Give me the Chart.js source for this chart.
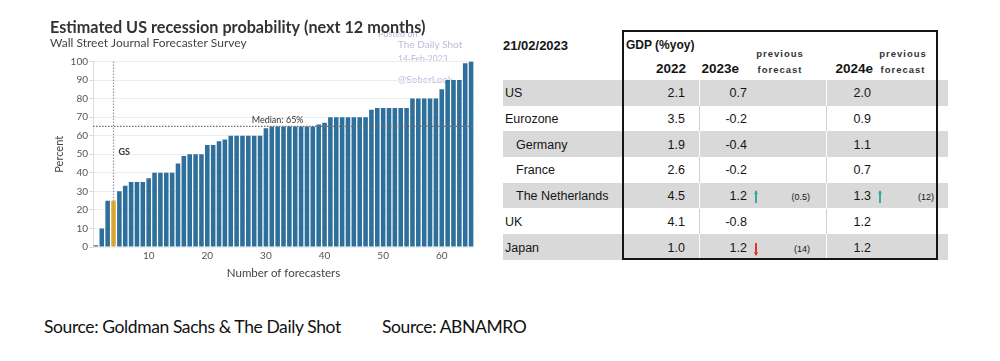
<!DOCTYPE html>
<html>
<head>
<meta charset="utf-8">
<script src="https://cdn.jsdelivr.net/npm/chart.js@4"></script>
<style>
  body { margin: 0; width: 1000px; height: 361px; background: #fff; overflow: hidden; position: relative; }
  #wrap { position: absolute; left: 40px; top: 10px; width: 450px; height: 280px; }
  .t { position: absolute; white-space: nowrap; font-family: "Liberation Sans", Arial, sans-serif; color: #151515; line-height: 1; }
  .src { position: absolute; top: 316px; font-family: Lato, sans-serif; font-size: 17.5px; letter-spacing: -0.4px; color: #111; white-space: nowrap; }
</style>
</head>
<body>
<div id="wrap"><canvas id="chart" width="450" height="280"></canvas></div>
<div id="table"></div>
<div class="src" style="left:44px">Source: Goldman Sachs &amp; The Daily Shot</div>
<div class="src" style="left:382px">Source: ABNAMRO</div>
<script>
// bar chart data
const forecasters = [1, 2, 3, 4, 5, 6, 7, 8, 9, 10, 11, 12, 13, 14, 15, 16, 17, 18, 19, 20,
  21, 22, 23, 24, 25, 26, 27, 28, 29, 30, 31, 32, 33, 34, 35, 36, 37, 38, 39, 40,
  41, 42, 43, 44, 45, 46, 47, 48, 49, 50, 51, 52, 53, 54, 55, 56, 57, 58, 59, 60,
  61, 62, 63, 64, 65];
const probability = [1, 10, 25, 25, 30, 33, 35, 35, 35, 37, 40, 40, 40, 40, 45, 49, 50, 50, 50, 55,
  55, 57, 58, 60, 60, 60, 60, 60, 60, 64, 65, 65, 65, 65, 65, 65, 65, 65, 66, 67,
  70, 70, 70, 70, 70, 70, 70, 74, 75, 75, 75, 75, 75, 75, 80, 80, 80, 80, 80, 85,
  90, 90, 90, 99, 100];
const xTickLabels = [10, 20, 30, 40, 50, 60];
const medianValue = 65;
const gsForecaster = 4;
const watermark = ['Posted on', 'The Daily Shot', '14-Feb-2023', '@SoberLook'];

// table data
const tableDate = '21/02/2023';
const countries = ['US', 'Eurozone', 'Germany', 'France', 'The Netherlands', 'UK', 'Japan'];
const euroMembers = ['Germany', 'France', 'The Netherlands'];
const gdp2022 = ['2.1', '3.5', '1.9', '2.6', '4.5', '4.1', '1.0'];
const gdp2023e = ['0.7', '-0.2', '-0.4', '-0.2', '1.2', '-0.8', '1.2'];
const move2023 = ['', '', '', '', 'up', '', 'down'];
const prev2023 = ['', '', '', '', '(0.5)', '', '(14)'];
const gdp2024e = ['2.0', '0.9', '1.1', '0.7', '1.3', '1.2', '1.2'];
const move2024 = ['', '', '', '', 'up', '', ''];
const prev2024 = ['', '', '', '', '(12)', '', ''];

const BLUE = '#2f6f9b';
const YELLOW = '#e9a91e';

// watermark sits under everything
const watermarkPlugin = {
  id: 'watermark',
  beforeDraw(chart) {
    const ctx = chart.ctx;
    ctx.save();
    ctx.fillStyle = 'rgba(170, 170, 215, 0.8)';
    ctx.textAlign = 'left';
    ctx.textBaseline = 'middle';
    ctx.font = '9px Lato';
    ctx.fillText(watermark[0], 338, 24);
    ctx.font = '10px Lato';
    ctx.fillText(watermark[1], 358, 35);
    ctx.font = '8.5px Lato';
    ctx.fillText(watermark[2], 358, 49);
    ctx.font = '10px Lato';
    ctx.fillText(watermark[3], 358, 70);
    ctx.restore();
  }
};

// median line and GS marker
const annotations = {
  id: 'annotations',
  afterDatasetsDraw(chart) {
    const { ctx, chartArea, scales } = chart;
    const yMed = scales.y.getPixelForValue(medianValue);
    const xGs = scales.x.getPixelForValue(forecasters.indexOf(gsForecaster));
    ctx.save();
    ctx.setLineDash([1.5, 1.5]);
    ctx.lineWidth = 1.2;
    ctx.strokeStyle = '#707070';
    ctx.beginPath();
    ctx.moveTo(chartArea.left, yMed);
    ctx.lineTo(chartArea.right, yMed);
    ctx.stroke();
    ctx.strokeStyle = '#999';
    ctx.beginPath();
    ctx.moveTo(xGs, chartArea.top);
    ctx.lineTo(xGs, chartArea.bottom);
    ctx.stroke();
    ctx.setLineDash([]);

    ctx.fillStyle = '#333';
    ctx.font = '9px Lato';
    ctx.textAlign = 'center';
    ctx.textBaseline = 'bottom';
    ctx.fillText('Median: 65%', scales.x.getPixelForValue(31), yMed - 1.5);
    ctx.textAlign = 'left';
    ctx.textBaseline = 'middle';
    ctx.font = 'bold 9px Lato';
    ctx.fillText('GS', xGs + 5, scales.y.getPixelForValue(51));
    ctx.restore();
  }
};

Chart.defaults.font.family = 'Lato';
Chart.defaults.color = '#555';

new Chart(document.getElementById('chart').getContext('2d'), {
  type: 'bar',
  data: {
    labels: forecasters,
    datasets: [{
      data: probability,
      backgroundColor: forecasters.map(f => f === gsForecaster ? YELLOW : BLUE),
      barPercentage: 0.78,
      categoryPercentage: 1
    }]
  },
  options: {
    responsive: false,
    animation: false,
    layout: { padding: { left: 10, right: 16, top: 0, bottom: 10 } },
    plugins: {
      legend: { display: false },
      tooltip: { enabled: false },
      title: {
        display: true,
        text: 'Estimated US recession probability (next 12 months)',
        align: 'start',
        color: '#333',
        font: { family: 'Lato', size: 16.2, weight: 'bold', lineHeight: 1.1 },
        padding: { top: 9, bottom: 0 }
      },
      subtitle: {
        display: true,
        text: 'Wall Street Journal Forecaster Survey',
        align: 'start',
        color: '#444',
        font: { size: 12, lineHeight: 1.1 },
        padding: { top: 0, bottom: 11.5 }
      }
    },
    scales: {
      x: {
        grid: { display: false, drawTicks: false },
        border: { display: false },
        ticks: {
          autoSkip: false,
          maxRotation: 0,
          padding: 3,
          font: { size: 10 },
          callback: (v, i) => xTickLabels.includes(forecasters[i]) ? forecasters[i] : ''
        },
        title: { display: true, text: 'Number of forecasters', color: '#444', font: { size: 11.5 }, padding: { top: 4, bottom: 0 } },
        afterFit: s => { s.height = 33; }
      },
      y: {
        min: 0,
        max: 100,
        ticks: { stepSize: 10, padding: 1, font: { size: 10 } },
        grid: { color: '#ededed', tickLength: 4, tickColor: '#dcdcdc' },
        border: { color: '#dcdcdc' },
        title: { display: true, text: 'Percent', color: '#444', font: { size: 11 }, padding: { top: 3, bottom: 0 } },
        afterFit: s => { s.width = 43; }
      }
    }
  },
  plugins: [watermarkPlugin, annotations]
});

// GDP table
const table = document.getElementById('table');
function place(text, x, y, align, css) {
  const d = document.createElement('div');
  d.className = 't';
  d.textContent = text;
  d.style.cssText = css || '';
  d.style.top = y + 'px';
  if (align === 'right') {
    d.style.right = (1000 - x) + 'px';
    d.style.transform = 'translateY(-50%)';
  } else if (align === 'center') {
    d.style.left = x + 'px';
    d.style.transform = 'translate(-50%, -50%)';
  } else {
    d.style.left = x + 'px';
    d.style.transform = 'translateY(-50%)';
  }
  table.appendChild(d);
  return d;
}
function box(x, y, w, h, css) {
  const d = document.createElement('div');
  d.style.cssText = 'position:absolute;left:' + x + 'px;top:' + y + 'px;width:' + w + 'px;height:' + h + 'px;' + css;
  table.appendChild(d);
}
// thin revision arrow: a shaft plus a small head
function arrow(x, cy, dir) {
  const col = dir === 'up' ? '#35aaa0' : '#e0332f';
  box(x - 0.6, cy - 6, 1.3, 12, 'background:' + col);
  const head = dir === 'up'
    ? 'border-bottom:4px solid ' + col + ';'
    : 'border-top:4px solid ' + col + ';';
  box(x - 2.5, dir === 'up' ? cy - 7 : cy + 3, 0, 0,
    'border-left:2.5px solid transparent;border-right:2.5px solid transparent;' + head);
}

const rowTop = 80, rowH = 25.7;
countries.forEach((c, i) => {
  const top = rowTop + i * rowH;
  const grey = i % 2 === 0;
  box(503, top, 445, rowH, 'background:' + (grey ? '#d9d9d9' : '#fff'));
  box(698.5, top, 1.5, rowH, 'background:' + (grey ? '#fff' : '#d0d0d0'));
  box(825.5, top, 1.5, rowH, 'background:' + (grey ? '#fff' : '#d0d0d0'));
});

const bold = 'font-weight:bold;font-size:13px;';
const small = 'font-weight:bold;font-size:9.5px;letter-spacing:1px;color:#333;';
place(tableDate, 503, 45, 'left', bold);
place('GDP (%yoy)', 626, 45, 'left', 'font-weight:bold;font-size:12px;');
place('2022', 686, 69, 'right', bold + 'font-size:13.5px;');
place('2023e', 739, 69, 'right', bold + 'font-size:13.5px;');
place('2024e', 873, 69, 'right', bold + 'font-size:13.5px;');
place('previous', 780, 54, 'center', small);
place('forecast', 780, 70, 'center', small);
place('previous', 903, 54, 'center', small);
place('forecast', 903, 70, 'center', small);

countries.forEach((c, i) => {
  const cy = rowTop + i * rowH + rowH / 2 + 0.5;
  const val = 'font-size:12.5px;';
  place(c, euroMembers.includes(c) ? 516 : 505, cy, 'left', val);
  place(gdp2022[i], 685, cy, 'right', val);
  place(gdp2023e[i], 747, cy, 'right', val);
  place(gdp2024e[i], 871, cy, 'right', val);
  if (move2023[i]) arrow(756, cy + 1, move2023[i]);
  if (move2024[i]) arrow(880, cy + 1, move2024[i]);
  if (prev2023[i]) place(prev2023[i], 810, cy + 1, 'right', 'font-size:9px;');
  if (prev2024[i]) place(prev2024[i], 934, cy + 1, 'right', 'font-size:9px;');
});
box(622, 30, 316, 230, 'border:2px solid #151515;box-sizing:border-box;');
</script>
</body>
</html>
